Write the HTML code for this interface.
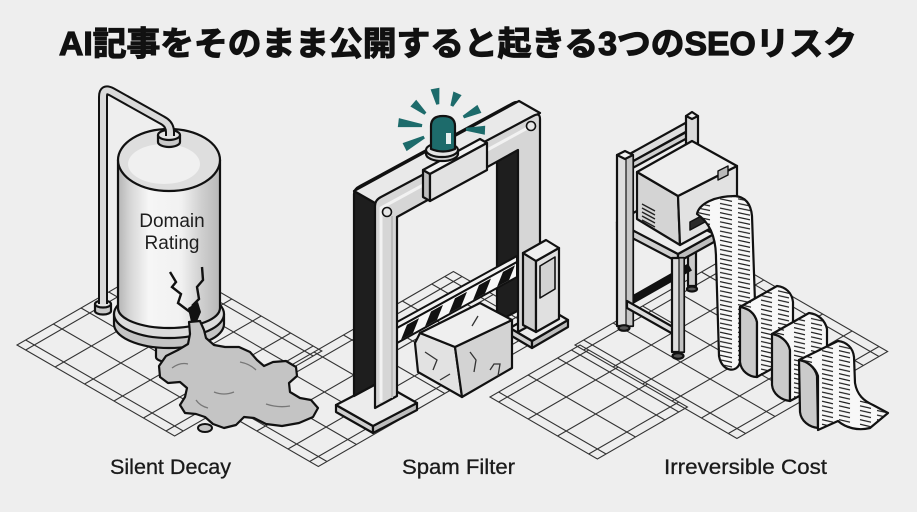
<!DOCTYPE html>
<html><head><meta charset="utf-8">
<style>
html,body{margin:0;padding:0;background:#eeeeee;}
svg{display:block}
</style></head><body>
<svg width="917" height="512" viewBox="0 0 917 512" xmlns="http://www.w3.org/2000/svg">
<defs>
 <linearGradient id="tankG" x1="0" x2="1" y1="0" y2="0">
  <stop offset="0" stop-color="#b5b5b5"/>
  <stop offset="0.12" stop-color="#d6d6d6"/>
  <stop offset="0.3" stop-color="#f6f6f6"/>
  <stop offset="0.62" stop-color="#f1f1f1"/>
  <stop offset="0.82" stop-color="#cfcfcf"/>
  <stop offset="1" stop-color="#b8b8b8"/>
 </linearGradient>
 <pattern id="t1" x="716" y="0" width="40" height="4.6" patternUnits="userSpaceOnUse"><path d="M4,1 L16,3.6 M22,1 L34,3.6" stroke="#1a1a1a" stroke-width="1.2"/></pattern>
 <pattern id="t2" x="757" y="0" width="38" height="4.6" patternUnits="userSpaceOnUse"><path d="M4,1 L15,3.6 M21,1 L32,3.6" stroke="#1a1a1a" stroke-width="1.2"/></pattern>
 <pattern id="t3" x="790" y="0" width="38" height="4.6" patternUnits="userSpaceOnUse"><path d="M4,1 L15,3.6 M21,1 L32,3.6" stroke="#1a1a1a" stroke-width="1.2"/></pattern>
 <pattern id="t4" x="818" y="0" width="38" height="4.6" patternUnits="userSpaceOnUse"><path d="M4,1 L15,3.6 M21,1 L32,3.6" stroke="#1a1a1a" stroke-width="1.2"/></pattern>
 <clipPath id="armClip"><polygon points="397,328 517,262 517,277 397,343"/></clipPath>
</defs>
<rect width="917" height="512" fill="#eeeeee"/>

<!-- Title -->
<text x="458" y="55" text-anchor="middle" font-family="'Liberation Sans','Noto Sans CJK JP',sans-serif" font-weight="700" font-size="33" textLength="798" lengthAdjust="spacingAndGlyphs" fill="#111" stroke="#111" stroke-width="1.2">AI記事をそのまま公開すると起きる3つのSEOリスク</text>

<!-- Floor grids -->
<g fill="none" stroke="#333" stroke-width="1.1">
 <path vector-effect="non-scaling-stroke" transform="matrix(0.866,0.5,0.866,-0.5,17,345)" d="M0,0H182V170H0Z M10,0V170M44,0V170M78,0V170M112,0V170M146,0V170M172,0V170M0,10H182M0,42H182M0,74H182M0,106H182M0,138H182M0,160H182"/>
 <path vector-effect="non-scaling-stroke" transform="matrix(0.866,0.5,0.866,-0.5,217,408)" d="M0,0H117V273H0Z M10,0V273M46,0V273M82,0V273M107,0V273M0,10H117M0,44H117M0,78H117M0,112H117M0,146H117M0,180H117M0,214H117M0,248H117M0,263H117"/>
 <path vector-effect="non-scaling-stroke" transform="matrix(0.866,0.5,0.866,-0.5,490,397)" d="M0,0H124V104H0Z M10,0V104M44,0V104M78,0V104M114,0V104M0,10H124M0,44H124M0,78H124M0,94H124"/>
 <path vector-effect="non-scaling-stroke" transform="matrix(0.866,0.5,0.866,-0.5,575,345)" d="M0,0H187V174H0Z M10,0V174M44,0V174M78,0V174M112,0V174M146,0V174M177,0V174M0,10H187M0,44H187M0,78H187M0,112H187M0,146H187M0,164H187"/>
</g>

<!-- ============ TANK ============ -->
<g stroke="#111" stroke-width="2.2" stroke-linejoin="round">
 <path d="M95,304 h16 v7 a8,3.5 0 0 1 -16,0 z" fill="#c9c9c9"/>
 <ellipse cx="103" cy="304" rx="8" ry="3.5" fill="#e2e2e2"/>
 <path d="M156,340 v17 a12,5 0 0 0 24,0 v-17 z" fill="#c9c9c9"/>
 <path d="M114,314 v10 a55,24 0 0 0 110,0 v-10 z" fill="#c4c4c4"/>
 <ellipse cx="169" cy="314" rx="55" ry="24" fill="#dcdcdc"/>
 <path d="M118,160 V308 A51,20 0 0 0 220,308 V160 Z" fill="url(#tankG)"/>
 <ellipse cx="169" cy="160" rx="51" ry="31" fill="#dedede"/>
 <ellipse cx="164" cy="164" rx="36" ry="20" fill="#f0f0f0" stroke="none"/>
 <path d="M158,135 v7 a11,5 0 0 0 22,0 v-7 z" fill="#c9c9c9"/>
 <ellipse cx="169" cy="135" rx="11" ry="5" fill="#e4e4e4"/>
</g>
<path d="M103,304 L103,97 Q103,87 112,92 L162,120 Q170,124 170,132 L170,136" fill="none" stroke="#111" stroke-width="10" stroke-linejoin="round"/>
<path d="M103,304 L103,97 Q103,87 112,92 L162,120 Q170,124 170,132 L170,136" fill="none" stroke="#dadada" stroke-width="6" stroke-linejoin="round"/>
<text x="172" y="227" text-anchor="middle" font-family="'Liberation Sans',sans-serif" font-size="19" fill="#1e1e1e">Domain</text>
<text x="172" y="249" text-anchor="middle" font-family="'Liberation Sans',sans-serif" font-size="19" fill="#1e1e1e">Rating</text>
<g fill="none" stroke="#111" stroke-width="2.4" stroke-linejoin="miter">
 <polyline points="170,272 176,282 172,287 181,294 178,303 190,312 193,322"/>
 <polyline points="202,267 203,280 197,287 199,299 192,306"/>
</g>
<polygon points="188,308 198,302 201,312 196,324 191,322" fill="#111"/>
<polygon points="189,322 200,321 204,330 206,338 214,345 225,347 239,347 250,352 257,360 264,366 273,362 286,361 296,367 297,376 289,383 290,392 300,398 311,400 318,408 313,417 299,423 282,426 266,424 254,418 244,417 236,425 224,428 213,424 205,417 196,414 185,413 180,405 185,397 187,388 180,382 168,383 160,377 159,366 166,356 178,350 188,344 190,334" fill="#c4c4c4" stroke="#111" stroke-width="2.2" stroke-linejoin="round"/>
<g fill="none" stroke="#777" stroke-width="1.3">
 <path d="M172,368 q8,-6 16,-4"/><path d="M214,392 q10,4 20,0"/><path d="M266,404 q12,4 24,2"/><path d="M196,400 q4,6 12,8"/><path d="M240,362 q10,2 16,8"/>
</g>
<ellipse cx="205" cy="428" rx="7" ry="4" fill="#c4c4c4" stroke="#111" stroke-width="2"/>

<!-- ============ GATE ============ -->
<g stroke="#111" stroke-width="2.2" stroke-linejoin="round">
 <polygon points="336,405 373,426 373,433 336,412" fill="#cfcfcf"/>
 <polygon points="373,426 417,403 417,410 373,433" fill="#bdbdbd"/>
 <polygon points="336,405 380,382 417,403 373,426" fill="#ececec"/>
 <polygon points="510,328 532,341 532,348 510,335" fill="#cfcfcf"/>
 <polygon points="532,341 568,320 568,327 532,348" fill="#bdbdbd"/>
 <polygon points="510,328 546,307 568,320 532,341" fill="#ececec"/>
 <path d="M354,396 L354,194 Q354,189 360,186 L513,103 Q519,100 519,106 L519,310 L497,322 L497,138 L376,205 L376,384 Z" fill="#1e1e1e"/>
 <polygon points="354,191 519,101 540,113 375,203" fill="#e9e9e9"/>
 <polygon points="415,343 420,333 455,347 462,397 418,372" fill="#e2e2e2"/>
 <polygon points="455,347 512,320 512,368 462,397" fill="#d3d3d3"/>
 <polygon points="420,333 480,303 512,320 455,347" fill="#efefef"/>
</g>
<g fill="none" stroke="#333" stroke-width="1.3">
 <path d="M425,352 l12,8 l-4,10"/><path d="M440,380 l10,-6"/><path d="M470,352 l6,8 l-2,12"/><path d="M490,370 l4,-6 h6 l-2,12"/><path d="M478,316 l-6,10"/>
</g>
<polygon points="397,322 517,256 517,262 397,328" fill="#f2f2f2" stroke="#111" stroke-width="2"/>
<polygon points="397,328 517,262 517,277 397,343" fill="#f7f7f7"/>
<g clip-path="url(#armClip)" fill="#111">
 <polygon points="407,324.7 419,318.1 413,333.1 401,339.7"/>
 <polygon points="431,311.5 443,304.9 437,319.9 425,326.5"/>
 <polygon points="455,298.3 467,291.7 461,306.7 449,313.3"/>
 <polygon points="479,285.1 491,278.5 485,293.5 473,300.1"/>
 <polygon points="503,271.9 515,265.3 509,280.3 497,286.9"/>
</g>
<polygon points="397,328 517,262 517,277 397,343" fill="none" stroke="#111" stroke-width="2"/>
<g stroke="#111" stroke-width="2.2" stroke-linejoin="round">
 <path d="M375,408 L375,206 Q375,200 381,197 L533,116 Q540,112 540,119 L540,320 L518,332 L518,150 L397,217 L397,396 Z" fill="#d6d6d6"/>
 <path d="M381,402 L381,208 L533,125" fill="none" stroke="#f2f2f2" stroke-width="3"/>
 <path d="M392,398 L392,216" fill="none" stroke="#bcbcbc" stroke-width="2"/>
 <circle cx="387" cy="212" r="4.5" fill="#e6e6e6" stroke-width="1.6"/>
 <circle cx="531" cy="126" r="4.5" fill="#e6e6e6" stroke-width="1.6"/>
 <polygon points="423,170 430,174 430,201 423,197" fill="#bdbdbd"/>
 <polygon points="423,170 480,139 487,143 430,174" fill="#f2f2f2"/>
 <polygon points="430,174 487,143 487,170 430,201" fill="#e2e2e2"/>
 <polygon points="523,253 536,261 536,332 523,325" fill="#cfcfcf"/>
 <polygon points="536,261 559,248 559,319 536,332" fill="#e0e0e0"/>
 <polygon points="523,253 546,240 559,248 536,261" fill="#efefef"/>
 <polygon points="540,266 555,257 555,289 540,298" fill="#d2d2d2" stroke-width="1.6"/>
 <path d="M426,150 v4 a16,7 0 0 0 32,0 v-4 z" fill="#cfcfcf"/>
 <ellipse cx="442" cy="150" rx="16" ry="7" fill="#e4e4e4"/>
 <path d="M431,149 L431,126 Q431,116 443,116 Q455,116 455,126 L455,149 Q443,154 431,149 Z" fill="#1d6b6b"/>
</g>
<rect x="446" y="133" width="5" height="11" fill="#e6efef"/>
<g fill="#1d6b6b">
 <polygon points="439.3,104.1 439.4,87.8 430.6,89.4 436.3,104.7"/>
 <polygon points="453.2,106.7 461.6,95.1 453.4,91.5 450.4,105.5"/>
 <polygon points="426.4,112.5 416.2,99.7 410.4,106.5 424.4,114.7"/>
 <polygon points="422.3,124.1 398.9,118.1 397.8,127.1 421.9,127.1"/>
 <polygon points="423.5,135.8 402.6,143.1 406.6,151.1 424.9,138.4"/>
 <polygon points="464.1,118.4 481.4,112.9 477.4,104.9 462.7,115.8"/>
 <polygon points="465.9,130.8 484.8,134.7 485.2,125.7 466.1,127.8"/>
</g>

<!-- ============ PRINTER ============ -->
<g stroke="#111" stroke-width="2.2" stroke-linejoin="round">
 <rect x="688" y="238" width="8" height="48" fill="#c9c9c9"/>
 <ellipse cx="692" cy="289" rx="5" ry="2.5" fill="#555"/>
 <path d="M632,300 L690,267" stroke="#111" stroke-width="8"/>
 <polygon points="626,156 689,121 691,129 628,164" fill="#dedede"/>
 <polygon points="628,164 690,130 691,136 629,170" fill="#cfcfcf"/>
 <rect x="686" y="116" width="12" height="30" fill="#d9d9d9"/>
 <polygon points="686,116 692,112 698,116 692,119" fill="#f0f0f0"/>
 <polygon points="617,222 678,254 678,262 617,230" fill="#cfcfcf"/>
 <polygon points="678,254 714,234 714,242 678,262" fill="#bdbdbd"/>
 <polygon points="617,222 653,202 714,234 678,254" fill="#ececec"/>
 <rect x="617" y="155" width="16" height="171" fill="#dedede"/>
 <rect x="626" y="155" width="7" height="171" fill="#c6c6c6" stroke-width="1.2"/>
 <polygon points="617,155 625,151 633,155 625,159" fill="#f2f2f2"/>
 <ellipse cx="624" cy="328" rx="5.5" ry="2.8" fill="#555"/>
 <polygon points="627,301 673,327 673,334 627,308" fill="#dcdcdc"/>
 <rect x="672" y="258" width="12" height="94" fill="#dcdcdc"/>
 <rect x="679" y="258" width="5" height="94" fill="#c2c2c2" stroke-width="1.2"/>
 <ellipse cx="678" cy="356" rx="5.5" ry="2.8" fill="#555"/>
 <polygon points="637,172 678,196 680,245 637,219" fill="#d4d4d4"/>
 <polygon points="678,196 737,166 737,214 680,245" fill="#e2e2e2"/>
 <polygon points="637,172 692,141 737,166 678,196" fill="#eeeeee"/>
 <polygon points="690,222 735,198 735,206 690,230" fill="#2a2a2a" stroke-width="1.5"/>
 <polygon points="718,171 728,166 728,175 718,180" fill="#bbb" stroke-width="1.4"/>
</g>
<g stroke="#222" stroke-width="1.4">
 <path d="M642,204 L655,211 M642,208 L655,215 M642,212 L655,219 M642,216 L655,223 M642,220 L655,227"/>
</g>

<!-- paper -->
<g stroke="#111" stroke-width="2.2" stroke-linejoin="round">
 <path d="M697,214 C699,204 714,196 735,196 C746,197 751,205 752,216 L755,302 L740,307 L740,362 C738,373 722,373 719,356 L716,258 C716,236 709,222 697,214 Z" fill="#f8f8f8"/>
 <path d="M697,214 C699,204 714,196 735,196 C746,197 751,205 752,216 L755,302 L740,307 L740,362 C738,373 722,373 719,356 L716,258 C716,236 709,222 697,214 Z" fill="url(#t1)" stroke="none"/>
 <path d="M740,307 C748,308 755,313 757,322 L757,377 C749,377 741,371 740,362 Z" fill="#cbcbcb"/>
 <path d="M740,307 L777,286 C786,287 792,293 793,302 L793,357 L757,377 L757,322 C755,313 748,308 740,307 Z" fill="#f8f8f8"/>
 <path d="M740,307 L777,286 C786,287 792,293 793,302 L793,357 L757,377 L757,322 C755,313 748,308 740,307 Z" fill="url(#t2)" stroke="none"/>
 <path d="M772,334 C780,335 788,341 790,350 L790,401 C781,400 773,394 772,385 Z" fill="#cbcbcb"/>
 <path d="M772,334 L809,313 C818,314 825,320 827,329 L827,381 L790,401 L790,350 C788,341 780,335 772,334 Z" fill="#f8f8f8"/>
 <path d="M772,334 L809,313 C818,314 825,320 827,329 L827,381 L790,401 L790,350 C788,341 780,335 772,334 Z" fill="url(#t3)" stroke="none"/>
 <path d="M799,360 C807,361 815,367 817,376 L818,428 C809,427 801,421 800,412 Z" fill="#cbcbcb"/>
 <path d="M799,360 L838,341 C847,342 853,348 854,357 L855,383 C857,395 864,401 873,405 L888,413 L870,428 C858,431 846,428 838,421 L818,430 L818,376 C815,367 807,361 799,360 Z" fill="#f8f8f8"/>
 <path d="M799,360 L838,341 C847,342 853,348 854,357 L855,383 C857,395 864,401 873,405 L888,413 L870,428 C858,431 846,428 838,421 L818,430 L818,376 C815,367 807,361 799,360 Z" fill="url(#t4)" stroke="none"/>
</g>

<!-- Labels -->
<g font-family="'Liberation Sans',sans-serif" font-size="21" fill="#1a1a1a" stroke="#1a1a1a" stroke-width="0.3">
 <text x="110" y="474" textLength="121" lengthAdjust="spacingAndGlyphs">Silent Decay</text>
 <text x="402" y="474" textLength="113" lengthAdjust="spacingAndGlyphs">Spam Filter</text>
 <text x="664" y="474" textLength="163" lengthAdjust="spacingAndGlyphs">Irreversible Cost</text>
</g>
</svg>
</body></html>
